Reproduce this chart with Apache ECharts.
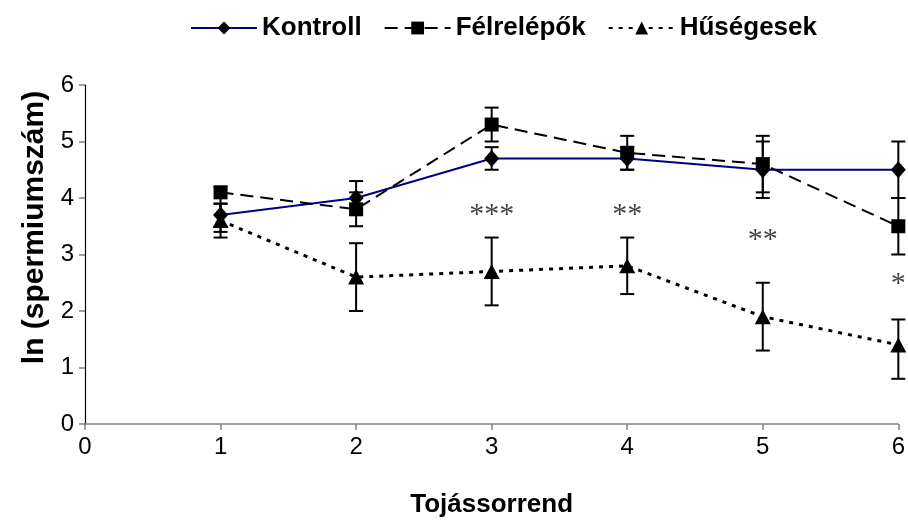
<!DOCTYPE html>
<html>
<head>
<meta charset="utf-8">
<script src="https://cdn.jsdelivr.net/npm/echarts@6/dist/echarts.min.js"></script>
<style>
  html, body { margin: 0; padding: 0; background: #fff; }
  #chart { width: 908px; height: 523px; }
</style>
</head>
<body>
<div id="chart"></div>
<script>
// Egg laying order (x) and ln(sperm count) means with error bar ends
const eggOrder = [1, 2, 3, 4, 5, 6];

const kontroll     = [3.7, 4.0, 4.7, 4.7, 4.5, 4.5];
const kontrollLow  = [3.5, 3.7, 4.5, 4.5, 4.0, 4.0];
const kontrollHigh = [3.9, 4.3, 4.9, 4.9, 5.0, 5.0];

const felrelepok     = [4.1, 3.8, 5.3, 4.8, 4.6, 3.5];
const felrelepokLow  = [3.4, 3.5, 5.0, 4.5, 4.1, 3.0];
const felrelepokHigh = [4.2, 4.1, 5.6, 5.1, 5.1, 4.0];

const husegesek     = [3.6, 2.6, 2.7, 2.8, 1.9, 1.4];
const husegesekLow  = [3.3, 2.0, 2.1, 2.3, 1.3, 0.8];
const husegesekHigh = [3.9, 3.2, 3.3, 3.3, 2.5, 1.85];

// Significance marks
const sigX    = [3, 4, 5, 6];
const sigY    = [3.7, 3.7, 3.26, 2.47];
const sigText = ['***', '**', '**', '*'];

const xTicks = [0, 1, 2, 3, 4, 5, 6];
const yTicks = [0, 1, 2, 3, 4, 5, 6];

const seriesNames = ['Kontroll', 'Félrelépők', 'Hűségesek'];

const FONT = '"Liberation Sans", Arial, sans-serif';

const pairs = (ys) => eggOrder.map((x, i) => [x, ys[i]]);
const bars = (lo, hi) => eggOrder.map((x, i) => [x, lo[i], hi[i]]);

function errorBarItem(params, api) {
  const x = api.value(0);
  const top = api.coord([x, api.value(2)]);
  const bot = api.coord([x, api.value(1)]);
  const half = 7;
  const style = { stroke: '#000', lineWidth: 2 };
  return {
    type: 'group',
    children: [
      { type: 'line', shape: { x1: top[0], y1: top[1], x2: bot[0], y2: bot[1] }, style },
      { type: 'line', shape: { x1: top[0] - half, y1: top[1], x2: top[0] + half, y2: top[1] }, style },
      { type: 'line', shape: { x1: bot[0] - half, y1: bot[1], x2: bot[0] + half, y2: bot[1] }, style }
    ]
  };
}

function errorSeries(name, lo, hi) {
  return {
    name: name,
    type: 'custom',
    renderItem: errorBarItem,
    data: bars(lo, hi),
    encode: { x: 0, y: [1, 2] },
    z: 3,
    silent: true
  };
}

const chart = echarts.init(document.getElementById('chart'), null, { renderer: 'canvas' });

chart.setOption({
  animation: false,
  backgroundColor: '#fff',
  textStyle: { fontFamily: FONT },
  legend: {
    data: seriesNames,
    left: 185,
    top: 10,
    itemWidth: 66,
    itemHeight: 16,
    itemGap: 22,
    textStyle: { fontFamily: FONT, fontSize: 26, fontWeight: 'bold', color: '#000' }
  },
  grid: { left: 85, right: 9, top: 85, bottom: 97 },
  xAxis: {
    type: 'value',
    min: xTicks[0],
    max: xTicks[xTicks.length - 1],
    interval: 1,
    name: 'Tojássorrend',
    nameLocation: 'middle',
    nameGap: 68,
    nameTextStyle: { fontFamily: FONT, fontSize: 26, fontWeight: 'bold', color: '#000' },
    axisLine: { lineStyle: { color: '#808080', width: 1.5 } },
    axisTick: { show: true, length: 6, lineStyle: { color: '#808080', width: 1.5 } },
    axisLabel: { fontFamily: FONT, fontSize: 24, color: '#000', margin: 11 },
    splitLine: { show: false }
  },
  yAxis: {
    type: 'value',
    min: yTicks[0],
    max: yTicks[yTicks.length - 1],
    interval: 1,
    name: 'ln (spermiumszám)',
    nameLocation: 'middle',
    nameGap: 34,
    nameTextStyle: { fontFamily: FONT, fontSize: 30, fontWeight: 'bold', color: '#000', padding: [0, 0, 0, 54] },
    axisLine: { lineStyle: { color: '#000', width: 1.2 } },
    axisTick: { show: true, length: 6, lineStyle: { color: '#808080', width: 1.5 } },
    axisLabel: { fontFamily: FONT, fontSize: 24, color: '#000', margin: 11 },
    splitLine: { show: false }
  },
  series: [
    errorSeries('Kontroll hiba', kontrollLow, kontrollHigh),
    errorSeries('Félrelépők hiba', felrelepokLow, felrelepokHigh),
    errorSeries('Hűségesek hiba', husegesekLow, husegesekHigh),
    {
      name: seriesNames[0],
      type: 'line',
      data: pairs(kontroll),
      symbol: 'diamond',
      symbolSize: [15, 17],
      lineStyle: { color: '#000080', width: 2 },
      itemStyle: { color: '#000' },
      z: 5
    },
    {
      name: seriesNames[1],
      type: 'line',
      data: pairs(felrelepok),
      symbol: 'rect',
      symbolSize: 14,
      lineStyle: { color: '#000', width: 2, type: [13, 7] },
      itemStyle: { color: '#000' },
      z: 5
    },
    {
      name: seriesNames[2],
      type: 'line',
      data: pairs(husegesek),
      symbol: 'triangle',
      symbolSize: [16, 15],
      lineStyle: { color: '#000', width: 3, type: [4, 6] },
      itemStyle: { color: '#000' },
      z: 5
    },
    {
      name: 'szignifikancia',
      type: 'scatter',
      data: sigX.map((x, i) => [x, sigY[i], sigText[i]]),
      symbolSize: 0,
      silent: true,
      label: {
        show: true,
        position: 'inside',
        formatter: (p) => p.value[2],
        fontFamily: '"Liberation Serif", "Times New Roman", serif',
        fontSize: 30,
        color: '#111'
      }
    }
  ]
});
</script>
</body>
</html>
